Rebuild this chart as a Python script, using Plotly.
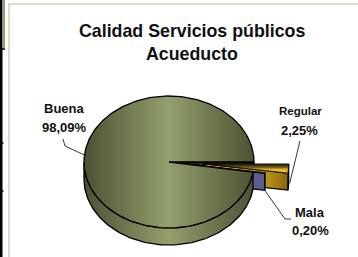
import numpy as np
import plotly.graph_objects as go

# ---------------- data ----------------
categories = ["Buena", "Regular", "Mala"]
values = [98.09, 2.25, 0.20]
value_labels = ["98,09%", "2,25%", "0,20%"]
title_lines = ["Calidad Servicios públicos", "Acueducto"]

# ---------------- geometry / style ----------------
CX, CY, RX, RY, DEPTH = 169.0, 162.0, 85.0, 66.0, 17.0
FIRST_ANGLE = 8.77          # start of first slice, clockwise from east (screen)
EXPLODE = [0.0, 0.41, 0.14]
OLIVE_SCALE = [[0, "#4b5233"], [0.5, "#939f6c"], [1, "#4b5233"]]
GOLD_SCALE = [[0, "#e2b422"], [1, "#86650b"]]
GOLD_TOP_SCALE = [[0, "#1e1e0e"], [0.35, "#6a5616"], [0.6, "#e0b420"], [1, "#f5cb2a"]]
BLUE = "#5c5c93"
DARK_FACE = "#262a18"
FONT = "Liberation Sans, Arial, sans-serif"

total = sum(values)
spans = [v / total * 360.0 for v in values]
starts = [FIRST_ANGLE]
for s in spans[:-1]:
    starts.append(starts[-1] + s)
ends = [a + s for a, s in zip(starts, spans)]


def offset(i):
    mid = np.radians((starts[i] + ends[i]) / 2)
    return EXPLODE[i] * RX * np.cos(mid), EXPLODE[i] * RY * np.sin(mid)


def rim(phi, off=(0, 0), dz=0.0):
    p = np.radians(phi)
    return CX + off[0] + RX * np.cos(p), CY + off[1] + RY * np.sin(p) + dz


def arc(a0, a1, off=(0, 0), dz=0.0, n=None):
    if n is None:
        n = max(3, int(abs(a1 - a0) / 1.5) + 2)
    ph = np.linspace(a0, a1, n)
    xs, ys = rim(ph, off, dz)
    return list(xs), list(ys)


fig = go.Figure()


def poly(xs, ys, fillcolor=None, gradient=None, lw=1.1):
    kw = dict(x=xs + [xs[0]], y=ys + [ys[0]], mode="lines", fill="toself",
              line=dict(color="black", width=lw), hoverinfo="skip",
              showlegend=False)
    if gradient is not None:
        kw["fillgradient"] = gradient
        kw["fillcolor"] = gradient["colorscale"][-1][1]
    else:
        kw["fillcolor"] = fillcolor
    fig.add_trace(go.Scatter(**kw))


def radial_face(i, phi, **style):
    off = offset(i)
    cx, cy = CX + off[0], CY + off[1]
    rx_, ry_ = rim(phi, off)
    poly([cx, rx_, rx_, cx], [cy, ry_, ry_ + DEPTH, cy + DEPTH], **style)


def top_face(i, **style):
    off = offset(i)
    xs, ys = arc(starts[i], ends[i], off)
    poly([CX + off[0]] + xs, [CY + off[1]] + ys, **style)


def outer_side(i, a0, a1, **style):
    off = offset(i)
    xt, yt = arc(a0, a1, off)
    xb, yb = arc(a0, a1, off, DEPTH)
    poly(xt + xb[::-1], yt + yb[::-1], **style)


olive_grad = dict(type="horizontal", colorscale=OLIVE_SCALE, start=CX - RX, stop=CX + RX)

# 1. Buena end face seen through the gap
radial_face(0, ends[0], fillcolor=DARK_FACE)

# 2. Regular (exploded)
off1 = offset(1)
gx0 = CX + off1[0]
gold_grad = dict(type="horizontal", colorscale=GOLD_SCALE,
                 start=gx0 + 0.55 * RX, stop=gx0 + RX)
radial_face(1, ends[1], gradient=gold_grad)
outer_side(1, starts[1], ends[1], fillcolor="#8a6a0c")
_, ytop0 = rim(starts[1], off1)
_, ytop1 = rim(ends[1], off1)
top_grad = dict(type="vertical", colorscale=GOLD_TOP_SCALE, start=ytop0, stop=ytop1)
top_face(1, gradient=top_grad, lw=0.8)

# 3. Mala (slightly exploded)
radial_face(2, ends[2], fillcolor=BLUE)
outer_side(2, starts[2], ends[2], fillcolor=BLUE)
top_face(2, fillcolor=BLUE, lw=0.8)

# 4. Buena side band (front half) and top face
xt, yt = arc(starts[0], 180.0)
xb, yb = arc(starts[0], 180.0, dz=DEPTH)
poly(xt + xb[::-1], yt + yb[::-1], gradient=olive_grad, lw=1.3)
xs, ys = arc(starts[0], ends[0])
poly([CX] + xs, [CY] + ys, gradient=olive_grad, lw=1.3)

# ---------------- labels ----------------
ann = []


def text(x, y, s, size):
    ann.append(dict(x=x, y=y, xref="x", yref="y", text="<b>" + s + "</b>",
                    showarrow=False, xanchor="center", yanchor="middle",
                    font=dict(family=FONT, size=size, color="#111111")))


text(192, 31, title_lines[0], 17.8)
text(192, 54, title_lines[1], 17.8)
text(64, 108, categories[0], 13)
text(64, 127, value_labels[0], 13)
text(300, 111, categories[1], 11.5)
text(299, 130, value_labels[1], 13)
text(310, 212, categories[2], 13)
text(310, 230, value_labels[2], 13)

# leader lines (anchored to slice geometry)
shapes = []


def leader(pts):
    path = "M " + " L ".join(f"{x:.1f},{y:.1f}" for x, y in pts)
    shapes.append(dict(type="path", path=path, xref="x", yref="y",
                       line=dict(color="#222222", width=0.9)))


bx, by = rim(186.0)
leader([(63, 139), (65, 146), (bx, by)])
rx1, ry1 = rim((starts[1] + ends[1]) / 2, off1, DEPTH)
leader([(300, 141), (rx1 + 1, ry1 - 2)])
off2 = offset(2)
mx, my = rim(ends[2], off2, DEPTH)
leader([(mx, my), (285, 219), (291, 219)])

# frame and neighbouring-cell borders
shapes += [
    dict(type="rect", x0=9, y0=4, x1=420, y1=320, xref="x", yref="y",
         line=dict(color="#dcdcca", width=2.2), layer="below"),
    dict(type="rect", x0=0, y0=0, x1=2.5, y1=257, xref="x", yref="y",
         fillcolor="black", line=dict(width=0)),
    dict(type="rect", x0=2.5, y0=0, x1=5, y1=48, xref="x", yref="y",
         fillcolor="#9a9c72", line=dict(width=0)),
    dict(type="line", x0=0, y0=49, x1=5, y1=49, xref="x", yref="y",
         line=dict(color="black", width=1.5)),
    dict(type="line", x0=0, y0=143, x1=3.5, y1=143, xref="x", yref="y",
         line=dict(color="black", width=1.5)),
    dict(type="line", x0=0, y0=191, x1=3.5, y1=191, xref="x", yref="y",
         line=dict(color="black", width=1.5)),
]

fig.update_layout(
    width=358, height=257, margin=dict(l=0, r=0, t=0, b=0),
    paper_bgcolor="white", plot_bgcolor="white", showlegend=False,
    xaxis=dict(range=[0, 358], visible=False, fixedrange=True),
    yaxis=dict(range=[257, 0], visible=False, fixedrange=True),
    annotations=ann, shapes=shapes,
)
fig.write_html("out.html", config={"displayModeBar": False},
               post_script="document.body.style.margin='0';document.body.style.overflow='hidden';")
